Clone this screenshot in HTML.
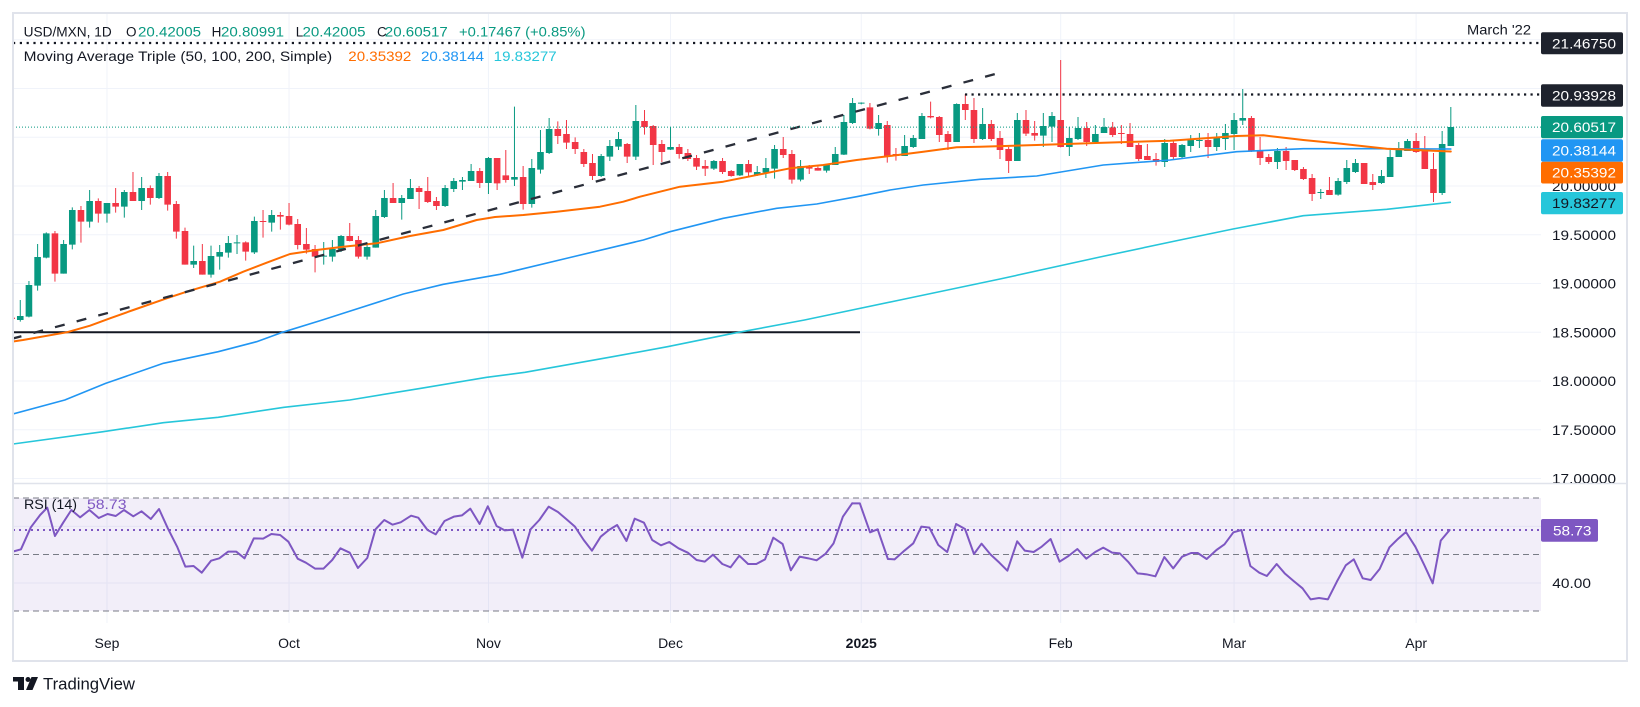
<!DOCTYPE html>
<html>
<head>
<meta charset="utf-8">
<style>
html,body{margin:0;padding:0;background:#fff;}
svg{display:block}
text{font-family:"Liberation Sans",Arial,sans-serif;}
</style>
</head>
<body>
<svg width="1640" height="707" viewBox="0 0 1640 707" xmlns="http://www.w3.org/2000/svg">
<defs>
<clipPath id="pc"><rect x="13" y="14" width="1528" height="469"/></clipPath>
<clipPath id="rc"><rect x="13" y="484" width="1528" height="139"/></clipPath>
<clipPath id="ac"><rect x="1541" y="14" width="86" height="469"/></clipPath>
</defs>
<rect width="1640" height="707" fill="#fff"/>

<!-- grid -->
<g stroke="#f0f3fa" stroke-width="1" fill="none">
<path d="M106.97 14V623M289.04 14V623M488.45 14V623M670.52 14V623M861.26 14V623M1060.67 14V623M1234.07 14V623M1416.14 14V623"/>
<path d="M13 39.8H1541M13 88.55H1541M13 137.3H1541M13 186.05H1541M13 234.8H1541M13 283.55H1541M13 332.3H1541M13 381.05H1541M13 429.8H1541M13 478.55H1541"/>
<path d="M13 526.4H1541M13 583H1541"/>
</g>

<!-- RSI pane -->
<rect x="13" y="498" width="1528" height="113" fill="#7e57c2" fill-opacity="0.1"/>
<g stroke="#787b86" stroke-width="1" stroke-dasharray="6 4" fill="none">
<path d="M13 498H1541M13 554.5H1541M13 611H1541"/>
</g>
<path d="M13 530H1541" stroke="#7e57c2" stroke-width="2" stroke-dasharray="2 4" fill="none"/>
<g clip-path="url(#rc)" fill="none" stroke="#7e57c2" stroke-width="2" stroke-linejoin="round" stroke-linecap="round">
<g transform="translate(10,320) scale(0.54795,0.33333)">
<polyline vector-effect="non-scaling-stroke" points="5,695 20,688 38,622 55,585 68,563 82,648 97,608 112,570 128,592 145,570 162,594 178,582 193,588 208,570 225,589 240,574 257,597 272,567 288,625 305,680 320,740 335,738 350,758 367,722 382,715 398,695 413,695 428,715 445,655 462,656 477,642 493,645 508,665 525,716 540,728 557,746 572,746 588,720 603,685 620,698 635,744 652,714 667,628 683,600 698,614 713,607 732,587 745,593 762,630 777,643 793,603 810,590 825,586 840,566 857,612 872,559 888,618 903,631 918,629 935,713 950,628 966,600 983,560 1000,576 1015,597 1031,620 1047,660 1062,692 1078,650 1093,630 1108,615 1125,663 1140,596 1157,608 1172,660 1188,676 1203,666 1220,685 1237,698 1253,720 1268,725 1283,704 1300,732 1315,742 1331,707 1347,732 1362,732 1378,718 1393,653 1410,672 1425,751 1441,710 1457,715 1472,721 1488,702 1503,670 1520,590 1537,550"/>
</g>
<g transform="translate(850,480) scale(0.44583,0.33333)">
<polyline vector-effect="non-scaling-stroke" points="5,70 22,70 45,157 62,148 85,237 100,238 122,212 142,190 160,140 178,143 198,195 218,216 238,132 258,147 278,222 295,191 315,223 335,248 353,272 375,184 392,212 412,216 430,200 450,177 470,245 490,228 510,207 530,236 550,216 568,203 588,218 605,220 625,247 645,280 665,283 685,289 705,231 725,265 745,230 765,219 780,219 800,237 822,210 840,193 860,157 878,150 898,258 918,278 935,288 957,252 975,280 995,303 1015,325 1033,358 1052,354 1072,358 1092,305 1112,256 1130,238 1150,295 1168,300 1188,267 1210,202 1228,178 1247,156 1268,200 1288,255 1307,310 1325,182 1345,150"/>
</g>
</g>

<!-- price pane -->
<g clip-path="url(#pc)">
<path d="M13 332.3H860" stroke="#131722" stroke-width="2" fill="none"/>

<!-- candles group A -->
<g transform="translate(0,100) scale(1,0.333333)">
<path stroke="#089981" stroke-width="1" fill="none" d="M20.27 600V665M28.94 543V652M37.61 432V572M46.28 397V475M63.62 420V521M72.29 322V448M89.63 270V383M106.97 309V368M124.31 270V353M141.65 231V330M158.99 219V297M193.67 437V504M211.01 437V533M219.68 435V509M228.35 408V473M237.02 405V462M254.36 350V462M271.7 330V395M323.72 426V494M332.39 420V485M341.06 405V456M367.07 435V479M375.74 330V443M384.41 270V354M401.75 285V359M410.42 237V297M445.1 255V321M453.77 234V276M462.44 231V270M471.11 192V243M488.45 171V282"/>
<path fill="#089981" d="M16.97 648h6.6V660h-6.6Z M25.64 555h6.6V650h-6.6Z M34.31 471h6.6V557h-6.6Z M42.98 400h6.6V473h-6.6Z M60.32 432h6.6V521h-6.6Z M68.99 330h6.6V434h-6.6Z M86.33 303h6.6V365h-6.6Z M103.67 309h6.6V341h-6.6Z M121.01 276h6.6V320h-6.6Z M138.35 264h6.6V303h-6.6Z M155.69 228h6.6V294h-6.6Z M190.37 483h6.6V494h-6.6Z M207.71 468h6.6V524h-6.6Z M216.38 456h6.6V470h-6.6Z M225.05 429h6.6V458h-6.6Z M233.72 427h6.6V430h-6.6Z M251.06 363h6.6V457h-6.6Z M268.4 345h6.6V368h-6.6Z M320.42 467h6.6V470h-6.6Z M329.09 447h6.6V470h-6.6Z M337.76 408h6.6V449h-6.6Z M363.77 441h6.6V470h-6.6Z M372.44 348h6.6V443h-6.6Z M381.11 294h6.6V351h-6.6Z M398.45 294h6.6V309h-6.6Z M407.12 264h6.6V297h-6.6Z M441.8 264h6.6V318h-6.6Z M450.47 243h6.6V267h-6.6Z M459.14 240h6.6V245h-6.6Z M467.81 213h6.6V243h-6.6Z M485.15 174h6.6V249h-6.6Z"/>
<path stroke="#f23645" stroke-width="1" fill="none" d="M11.6 650V660M54.95 393V545M80.96 318V428M98.3 295V368M115.64 264V338M132.98 216V303M150.32 256V314M167.66 216V332M176.33 303V416M185 383V494M202.34 432V524M245.69 424V482M263.03 330V413M280.37 336V389M289.04 309V376M297.71 357V448M306.38 384V461M315.05 435V517M349.73 369V424M358.4 408V476M393.08 249V309M419.09 258V327M427.76 231V309M436.43 291V330M479.78 204V264"/>
<path fill="#f23645" d="M8.3 653h6.6V657h-6.6Z M51.65 400h6.6V521h-6.6Z M77.66 330h6.6V365h-6.6Z M95 303h6.6V341h-6.6Z M112.34 309h6.6V320h-6.6Z M129.68 276h6.6V303h-6.6Z M147.02 264h6.6V294h-6.6Z M164.36 228h6.6V314h-6.6Z M173.03 312h6.6V395h-6.6Z M181.7 393h6.6V494h-6.6Z M199.04 483h6.6V524h-6.6Z M242.39 427h6.6V455h-6.6Z M259.73 363h6.6V366h-6.6Z M277.07 345h6.6V350h-6.6Z M285.74 348h6.6V374h-6.6Z M294.41 372h6.6V435h-6.6Z M303.08 432h6.6V449h-6.6Z M311.75 447h6.6V470h-6.6Z M346.43 408h6.6V423h-6.6Z M355.1 420h6.6V470h-6.6Z M389.78 294h6.6V309h-6.6Z M415.79 264h6.6V276h-6.6Z M424.46 273h6.6V306h-6.6Z M433.13 303h6.6V318h-6.6Z M476.48 213h6.6V249h-6.6Z"/>
</g>

<!-- candles group B + C -->
<g transform="translate(0,50) scale(1,0.333333)">
<path stroke="#089981" stroke-width="1" fill="none" d="M514.46 170V408M531.8 327V473M540.47 240V371M549.14 204V312M601.16 312V381M609.83 270V333M618.5 246V300M635.84 165V330M670.52 231V300M713.87 330V360M739.88 342V378M757.22 348V378M765.89 324V384M774.56 285V386M800.57 330V394M826.58 342V368M835.25 291V345M843.92 195V315M852.59 144V222M861.26 157V163M878.6 195V257M904.61 255V318M913.28 255V294M921.95 189V267M956.63 160V276 M982.64 174V270M1017.32 189V333M1043.33 189V291M1052 186V276M1069.34 231V318M1078.01 201V270M1095.35 225V282M1104.02 204V249M1164.71 267V351M1182.05 282V324M1190.72 255V306M1199.39 249V294M1216.73 249V303M1225.4 222V300M1234.07 189V300M1242.74 117V225M1277.42 294V357M1320.77 417V447M1338.11 384V437M1346.78 330V402M1355.45 327V369M1381.46 360V402M1390.13 300V381M1398.8 276V321M1407.47 267V303M1442.15 243V435M1450.82 171V288"/>
<path fill="#089981" d="M511.16 381h6.6V389h-6.6Z M528.5 354h6.6V462h-6.6Z M537.17 306h6.6V359h-6.6Z M545.84 237h6.6V309h-6.6Z M597.86 318h6.6V378h-6.6Z M606.53 288h6.6V320h-6.6Z M615.2 267h6.6V290h-6.6Z M632.54 213h6.6V320h-6.6Z M667.22 291h6.6V299h-6.6Z M710.57 333h6.6V356h-6.6Z M736.58 342h6.6V376h-6.6Z M753.92 366h6.6V374h-6.6Z M762.59 354h6.6V368h-6.6Z M771.26 297h6.6V356h-6.6Z M797.27 348h6.6V389h-6.6Z M823.28 342h6.6V362h-6.6Z M831.95 312h6.6V345h-6.6Z M840.62 216h6.6V314h-6.6Z M849.29 159h6.6V219h-6.6Z M857.96 158h6.6V161h-6.6Z M875.3 219h6.6V237h-6.6Z M901.31 288h6.6V318h-6.6Z M909.98 264h6.6V291h-6.6Z M918.65 198h6.6V267h-6.6Z M953.33 162h6.6V276h-6.6Z M979.34 222h6.6V267h-6.6Z M1014.02 210h6.6V333h-6.6Z M1040.03 228h6.6V257h-6.6Z M1048.7 198h6.6V230h-6.6Z M1066.04 264h6.6V291h-6.6Z M1074.71 234h6.6V267h-6.6Z M1092.05 252h6.6V276h-6.6Z M1100.72 231h6.6V249h-6.6Z M1161.41 279h6.6V336h-6.6Z M1178.75 285h6.6V321h-6.6Z M1187.42 270h6.6V288h-6.6Z M1196.09 270h6.6V273h-6.6Z M1213.43 264h6.6V291h-6.6Z M1222.1 249h6.6V267h-6.6Z M1230.77 210h6.6V252h-6.6Z M1239.44 204h6.6V212h-6.6Z M1274.12 303h6.6V336h-6.6Z M1317.47 426h6.6V429h-6.6Z M1334.81 393h6.6V434h-6.6Z M1343.48 354h6.6V396h-6.6Z M1352.15 339h6.6V366h-6.6Z M1378.16 378h6.6V399h-6.6Z M1386.83 321h6.6V381h-6.6Z M1395.5 294h6.6V321h-6.6Z M1404.17 273h6.6V303h-6.6Z M1438.85 282h6.6V429h-6.6Z M1447.52 231h6.6V288h-6.6Z"/>
<path stroke="#f23645" stroke-width="1" fill="none" d="M497.12 324V420M505.79 300V398M523.13 348V479M557.81 214V282M566.48 210V297M575.15 262V312M583.82 297V351M592.49 312V390M627.17 279V339M644.51 180V254M653.18 225V345M661.85 270V336M679.19 282V326M687.86 297V333M696.53 315V360M705.2 330V378M722.54 324V372M731.21 360V380M748.55 330V378M783.23 261V324M791.9 300V401M809.24 345V372M817.91 350V362M869.93 159V238M887.27 213V338M895.94 294V332M930.62 155V205M939.29 198V276M947.96 243V300M965.3 132V210M973.97 144V279 M991.31 210V273M999.98 243V327M1008.65 291V369M1025.99 180V258M1034.66 213V272M1060.67 30V292M1086.68 216V288M1112.69 216V261M1121.36 225V282M1130.03 219V291M1138.7 279V333M1147.37 282V330M1156.04 309V347M1173.38 270V327M1208.06 249V324M1251.41 198V306M1260.08 261V345M1268.75 312V342M1286.09 291V360M1294.76 330V363M1303.43 351V390M1312.1 372V453M1329.44 381V435M1364.12 339V402M1372.79 372V420M1416.14 249V309M1424.81 258V357M1433.48 309V456"/>
<path fill="#f23645" d="M493.82 324h6.6V400h-6.6Z M502.49 376h6.6V390h-6.6Z M519.83 381h6.6V462h-6.6Z M554.51 237h6.6V258h-6.6Z M563.18 252h6.6V278h-6.6Z M571.85 276h6.6V297h-6.6Z M580.52 306h6.6V342h-6.6Z M589.19 339h6.6V378h-6.6Z M623.87 282h6.6V320h-6.6Z M641.21 213h6.6V231h-6.6Z M649.88 228h6.6V285h-6.6Z M658.55 282h6.6V306h-6.6Z M675.89 291h6.6V312h-6.6Z M684.56 309h6.6V327h-6.6Z M693.23 324h6.6V350h-6.6Z M701.9 348h6.6V356h-6.6Z M719.24 333h6.6V366h-6.6Z M727.91 363h6.6V378h-6.6Z M745.25 342h6.6V367h-6.6Z M779.93 297h6.6V315h-6.6Z M788.6 312h6.6V389h-6.6Z M805.94 348h6.6V356h-6.6Z M814.61 354h6.6V362h-6.6Z M866.63 172h6.6V236h-6.6Z M883.97 225h6.6V318h-6.6Z M892.64 312h6.6V318h-6.6Z M927.32 198h6.6V202h-6.6Z M935.99 201h6.6V255h-6.6Z M944.66 252h6.6V276h-6.6Z M962 162h6.6V180h-6.6Z M970.67 180h6.6V267h-6.6Z M988.01 222h6.6V267h-6.6Z M996.68 264h6.6V300h-6.6Z M1005.35 297h6.6V333h-6.6Z M1022.69 210h6.6V251h-6.6Z M1031.36 249h6.6V257h-6.6Z M1057.37 210h6.6V291h-6.6Z M1083.38 234h6.6V276h-6.6Z M1109.39 232h6.6V255h-6.6Z M1118.06 249h6.6V252h-6.6Z M1126.73 252h6.6V291h-6.6Z M1135.4 285h6.6V327h-6.6Z M1144.07 318h6.6V330h-6.6Z M1152.74 327h6.6V336h-6.6Z M1170.08 279h6.6V321h-6.6Z M1204.76 270h6.6V291h-6.6Z M1248.11 204h6.6V303h-6.6Z M1256.78 300h6.6V324h-6.6Z M1265.45 321h6.6V336h-6.6Z M1282.79 303h6.6V333h-6.6Z M1291.46 330h6.6V360h-6.6Z M1300.13 357h6.6V387h-6.6Z M1308.8 384h6.6V432h-6.6Z M1326.14 420h6.6V435h-6.6Z M1360.82 339h6.6V402h-6.6Z M1369.49 396h6.6V405h-6.6Z M1412.84 273h6.6V306h-6.6Z M1421.51 303h6.6V357h-6.6Z M1430.18 357h6.6V429h-6.6Z"/>
</g>

<!-- moving averages -->
<g fill="none" stroke-linejoin="round" stroke-linecap="round">
<polyline stroke="#26c6da" stroke-width="1.6" points="13,444 103.2,431.7 163.4,422.7 218.2,417.3 284,407.3 349.7,400 421,388.3 486.7,377.3 525,372.3 612.7,356.7 667.5,346.7 733.3,333.3 804.5,320 900,300 1000,279 1100,257 1180,240 1233,229 1303.3,215.7 1386.7,209.3 1450.3,202.3"/>
<polyline stroke="#2196f3" stroke-width="1.6" points="13,414 64.8,400 105.9,383.3 163.4,363.3 218.2,351.7 256.6,341.7 281.2,332.7 322.3,320 343.3,313.3 403.3,294 443.3,284.3 500,274.3 570,257.5 643.3,240 670,231.7 723.3,218.3 776.7,208.3 816.7,204 856.7,196.7 890,190 923.3,185 980,179.3 1036.7,176 1103.3,165 1170,160 1236.7,151.7 1303.3,148.7 1370,148.7 1450.8,149"/>
<polyline stroke="#ff6d00" stroke-width="2" points="13,341.5 23,340 66.7,332.3 90,325.7 110,318.3 133.3,310 166.7,298.3 186.7,291.7 220,281.7 243.3,271.7 266.7,262.7 290,254 316.7,250 343.3,246.7 376.7,243.3 410,236 443.3,230 476.7,220 495,217 523.3,215 556.7,211.7 600,206.7 623.3,201.7 640,196.7 680,186.7 723.3,181.7 773.3,171.7 790,168.3 823.3,165 856.7,160 890,156 923.3,151.7 956.7,147.3 980,146.7 1036.7,145 1103.3,142.7 1170,140.7 1236.7,136 1263.3,135.3 1303.3,140 1336.7,143.3 1386.7,148.7 1415.3,150 1450.8,151.5"/>
</g>

<!-- drawings -->
<path d="M13 338.5L999 73" stroke="#2a2e39" stroke-width="2.3" stroke-dasharray="10 12.4" stroke-dashoffset="1.3" fill="none"/>
<path d="M13 43H1541" stroke="#131722" stroke-width="2.2" stroke-dasharray="2.2 4.6" fill="none"/>
<path d="M965 94.5H1541" stroke="#131722" stroke-width="2.2" stroke-dasharray="2.2 4.3" fill="none"/>
<path d="M13 127.1H1541" stroke="#089981" stroke-width="1" stroke-dasharray="1 2" fill="none"/>
</g>

<!-- pane separator -->
<path d="M13 483.5H1627" stroke="#e0e3eb" stroke-width="1.5" fill="none"/>

<!-- legend -->
<g font-size="13.5" lengthAdjust="spacingAndGlyphs">
<text x="23.7" y="36.7" fill="#131722" textLength="88" lengthAdjust="spacingAndGlyphs">USD/MXN, 1D</text>
<text x="126" y="36.7" fill="#131722">O</text>
<text x="138" y="36.7" fill="#089981" textLength="63" lengthAdjust="spacingAndGlyphs">20.42005</text>
<text x="211.6" y="36.7" fill="#131722">H</text>
<text x="221" y="36.7" fill="#089981" textLength="63" lengthAdjust="spacingAndGlyphs">20.80991</text>
<text x="295.8" y="36.7" fill="#131722">L</text>
<text x="302.5" y="36.7" fill="#089981" textLength="63" lengthAdjust="spacingAndGlyphs">20.42005</text>
<text x="377" y="36.7" fill="#131722">C</text>
<text x="384.8" y="36.7" fill="#089981" textLength="63" lengthAdjust="spacingAndGlyphs">20.60517</text>
<text x="459" y="36.7" fill="#089981" textLength="126.5" lengthAdjust="spacingAndGlyphs">+0.17467 (+0.85%)</text>
<text x="23.7" y="61" fill="#131722" textLength="308.5" lengthAdjust="spacingAndGlyphs">Moving Average Triple (50, 100, 200, Simple)</text>
<text x="348.3" y="61" fill="#ff6d00" textLength="63" lengthAdjust="spacingAndGlyphs">20.35392</text>
<text x="421" y="61" fill="#2196f3" textLength="63" lengthAdjust="spacingAndGlyphs">20.38144</text>
<text x="493.7" y="61" fill="#26c6da" textLength="63" lengthAdjust="spacingAndGlyphs">19.83277</text>
<text x="1467" y="34.5" fill="#131722" textLength="64" lengthAdjust="spacingAndGlyphs">March '22</text>
</g>

<!-- RSI legend -->
<text x="24" y="509" font-size="13.5" fill="#131722" textLength="53" lengthAdjust="spacingAndGlyphs">RSI (14)</text>
<text x="87" y="509" font-size="13.5" fill="#7e57c2" textLength="39.5" lengthAdjust="spacingAndGlyphs">58.73</text>

<!-- price axis -->
<g font-size="14" fill="#131722" clip-path="url(#ac)">
<text x="1552" y="191" textLength="64" lengthAdjust="spacingAndGlyphs">20.00000</text>
<text x="1552" y="239.8" textLength="64" lengthAdjust="spacingAndGlyphs">19.50000</text>
<text x="1552" y="288.6" textLength="64" lengthAdjust="spacingAndGlyphs">19.00000</text>
<text x="1552" y="337.3" textLength="64" lengthAdjust="spacingAndGlyphs">18.50000</text>
<text x="1552" y="386" textLength="64" lengthAdjust="spacingAndGlyphs">18.00000</text>
<text x="1552" y="434.8" textLength="64" lengthAdjust="spacingAndGlyphs">17.50000</text>
<text x="1552" y="483.6" textLength="64" lengthAdjust="spacingAndGlyphs">17.00000</text>
</g>
<g font-size="14">
<rect x="1541" y="32.3" width="82" height="22" rx="2" fill="#1e222d"/>
<text x="1552" y="48.3" fill="#fff" textLength="64" lengthAdjust="spacingAndGlyphs">21.46750</text>
<rect x="1541" y="84.3" width="82" height="22.4" rx="2" fill="#1e222d"/>
<text x="1552" y="100.5" fill="#fff" textLength="64" lengthAdjust="spacingAndGlyphs">20.93928</text>
<rect x="1541" y="116" width="82" height="22.3" rx="2" fill="#089981"/>
<text x="1552" y="132.2" fill="#fff" textLength="64" lengthAdjust="spacingAndGlyphs">20.60517</text>
<rect x="1541" y="139.3" width="82" height="22.4" rx="2" fill="#2196f3"/>
<text x="1552" y="155.5" fill="#fff" textLength="64" lengthAdjust="spacingAndGlyphs">20.38144</text>
<rect x="1541" y="161.7" width="82" height="21.8" rx="2" fill="#ff6d00"/>
<text x="1552" y="177.6" fill="#fff" textLength="64" lengthAdjust="spacingAndGlyphs">20.35392</text>
<rect x="1541" y="192" width="82" height="22.3" rx="2" fill="#26c6da"/>
<text x="1552" y="208.2" fill="#131722" textLength="64" lengthAdjust="spacingAndGlyphs">19.83277</text>
<rect x="1541" y="519" width="57" height="22.7" rx="2" fill="#7e57c2"/>
<text x="1553" y="535.4" fill="#fff" textLength="38.5" lengthAdjust="spacingAndGlyphs">58.73</text>
<text x="1552.3" y="588" fill="#131722" textLength="38.7" lengthAdjust="spacingAndGlyphs">40.00</text>
</g>

<!-- time axis -->
<g font-size="14" fill="#131722" text-anchor="middle">
<text x="106.97" y="648">Sep</text>
<text x="289.04" y="648">Oct</text>
<text x="488.45" y="648">Nov</text>
<text x="670.52" y="648">Dec</text>
<text x="861.26" y="648" font-weight="bold">2025</text>
<text x="1060.67" y="648">Feb</text>
<text x="1234.07" y="648">Mar</text>
<text x="1416.14" y="648">Apr</text>
</g>

<!-- frame -->
<rect x="13" y="13" width="1614" height="648" fill="none" stroke="#e0e3eb" stroke-width="2"/>

<!-- TradingView logo -->
<g fill="#131722">
<polygon points="13,677 24,677 24,690 18,690 18,681.5 13,681.5"/>
<circle cx="28" cy="679.5" r="2.5"/>
<polygon points="26,690 31.5,677 38,677 32.5,690"/>
</g>
<text x="43" y="689.5" font-size="17" fill="#131722" textLength="92" lengthAdjust="spacingAndGlyphs">TradingView</text>
</svg>
</body>
</html>
